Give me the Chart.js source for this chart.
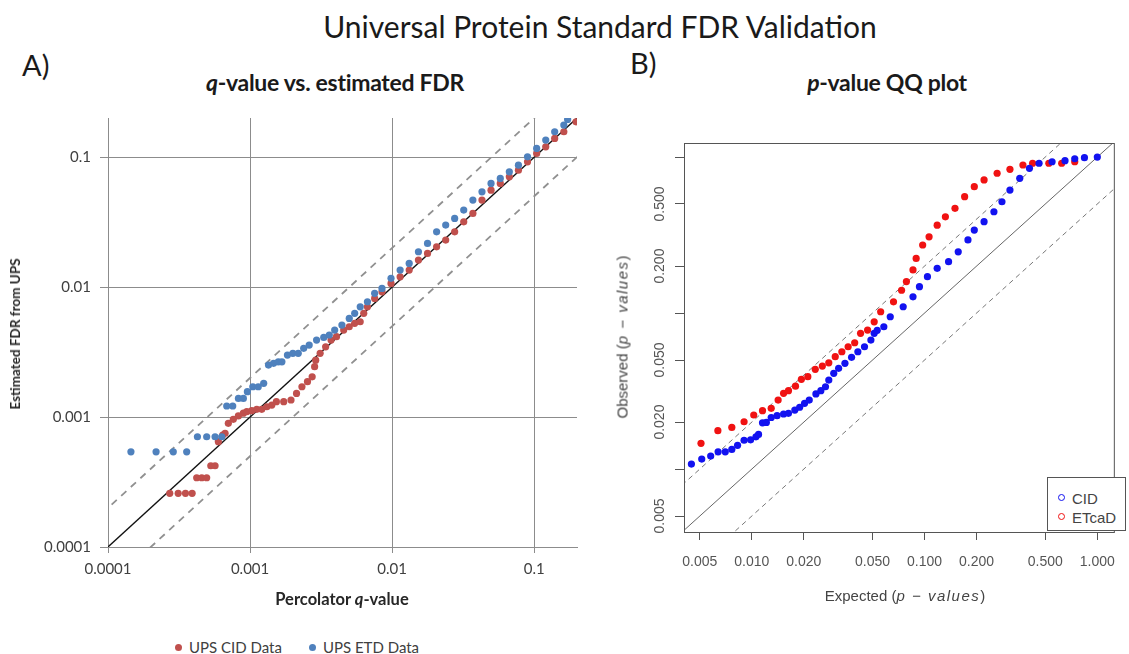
<!DOCTYPE html>
<html>
<head>
<meta charset="utf-8">
<script src="https://cdn.jsdelivr.net/npm/chart.js@4.4.1/dist/chart.umd.min.js"></script>
<style>
  body { margin: 0; width: 1129px; height: 654px; background: #fff; position: relative; overflow: hidden; font-family: Lato, sans-serif; }
  .abs { position: absolute; white-space: nowrap; }
  .box { position: absolute; }
  .rot { transform: translate(-50%, -50%) rotate(-90deg); }
  .ctr { transform: translate(-50%, -50%); }
  #mainTitle { left: 600px; top: 26px; font-size: 30px; color: #1a1a1a; }
  .panel { font-size: 29px; color: #1a1a1a; }
  .sub { font-size: 23px; font-weight: bold; color: #1a1a1a; letter-spacing: -0.3px; }
  .axA { font-weight: bold; color: #262626; }
  .axB { font-family: "Liberation Sans", Arial, sans-serif; font-size: 15px; color: #444; }
  .axB i { letter-spacing: 1.5px; }
  #legendA { left: 175px; top: 638px; font-size: 15px; color: #404040; }
  #legendA span.item { margin-right: 27px; }
  .dot { display: inline-block; width: 7px; height: 7px; border-radius: 50%; margin-right: 7px; vertical-align: 2px; }
  #legendB { left: 1047px; top: 477px; width: 79px; height: 54px; border: 1px solid #555; background: #fff;
             font-family: "Liberation Sans", Arial, sans-serif; font-size: 15px; color: #444; box-sizing: border-box; padding: 11px 0 0 10px; line-height: 19px; }
  .ring { display: inline-block; width: 5px; height: 5px; border-radius: 50%; border: 1.3px solid; margin-right: 7px; vertical-align: 3px; }
</style>
</head>
<body>
<div class="abs ctr" id="mainTitle">Universal Protein Standard FDR Validation</div>
<div class="abs panel" style="left:22px; top:47px;">A)</div>
<div class="abs panel" style="left:630px; top:45px;">B)</div>
<div class="abs ctr sub" style="left:335px; top:82px;"><i>q</i>-value vs. estimated FDR</div>
<div class="abs ctr sub" style="left:887px; top:82px;"><i>p</i>-value QQ plot</div>

<div class="box" style="left:0; top:100px;"><canvas id="chartA" width="590" height="520"></canvas></div>
<div class="box" style="left:590px; top:100px;"><canvas id="chartB" width="539" height="500"></canvas></div>

<div class="abs rot axA" style="left:15px; top:334px; font-size:13.5px;">Estimated FDR from UPS</div>
<div class="abs ctr axA" style="left:342px; top:599px; font-size:16.5px;">Percolator <i>q</i>-value</div>
<div class="abs rot axB" style="left:622px; top:337px;">Observed (<i>p − values</i>)</div>
<div class="abs ctr axB" style="left:905px; top:595px;">Expected (<i>p − values</i>)</div>

<div class="abs" id="legendA"></div>
<div class="abs" id="legendB"></div>

<script>
// ---- panel A: q-value vs estimated FDR ----
const cidQ = [0.000272, 0.000312, 0.000351, 0.000391, 0.000421, 0.000457, 0.000495, 0.000529, 0.000567, 0.000598,
  0.000642, 0.000667, 0.000703, 0.000762, 0.000827, 0.000897, 0.000948, 0.001028, 0.001114, 0.001208,
  0.001312, 0.001422, 0.001532, 0.001725, 0.001941, 0.002123, 0.002317, 0.002535, 0.002735, 0.002846,
  0.002897, 0.003113, 0.003403, 0.003715, 0.004058, 0.00456, 0.004988, 0.005446, 0.005957, 0.00631,
  0.0067, 0.00753, 0.00848, 0.00982, 0.01138, 0.01318, 0.01531, 0.01774, 0.02055, 0.02382,
  0.02754, 0.0319, 0.037, 0.04288, 0.04966, 0.0577, 0.0668, 0.0774, 0.0897, 0.104,
  0.1205, 0.1393, 0.1616, 0.1968];
const cidFdr = [0.000259, 0.000259, 0.000259, 0.000259, 0.000341, 0.000341, 0.000341, 0.000422, 0.000422, 0.000646,
  0.000727, 0.000749, 0.000894, 0.00096, 0.00102, 0.00107, 0.0011, 0.00112, 0.001146, 0.001146,
  0.0012, 0.001236, 0.001312, 0.001312, 0.001352, 0.00152, 0.00171, 0.00187, 0.00204, 0.00244,
  0.00274, 0.00309, 0.00347, 0.00391, 0.00415, 0.00467, 0.00495, 0.00526, 0.00541, 0.00628,
  0.00705, 0.00818, 0.0092, 0.01067, 0.012, 0.01351, 0.01614, 0.01816, 0.02042, 0.023,
  0.0266, 0.0318, 0.0369, 0.0467, 0.0557, 0.0628, 0.0705, 0.0794, 0.092, 0.1067,
  0.12, 0.1393, 0.1567, 0.187];
const etdQ = [0.000145, 0.000218, 0.000288, 0.000358, 0.000426, 0.000495, 0.000567, 0.000632, 0.000685, 0.000755,
  0.000828, 0.000897, 0.000957, 0.001045, 0.001142, 0.001247, 0.001348, 0.001463, 0.00158, 0.001675,
  0.001832, 0.002, 0.002183, 0.002384, 0.002607, 0.002938, 0.0033, 0.00361, 0.00394, 0.00443,
  0.00499, 0.00545, 0.00596, 0.0067, 0.00753, 0.00848, 0.00982, 0.01138, 0.01318, 0.01531,
  0.01774, 0.02055, 0.02382, 0.02754, 0.0319, 0.037, 0.04288, 0.04966, 0.0577, 0.0668,
  0.0774, 0.0897, 0.104, 0.1205, 0.1393, 0.1616, 0.1718];
const etdFdr = [0.00054, 0.00054, 0.00054, 0.00054, 0.000705, 0.000705, 0.000705, 0.000705, 0.001216, 0.001216,
  0.00139, 0.00139, 0.001567, 0.00171, 0.00171, 0.001816, 0.00251, 0.00259, 0.00266, 0.00266,
  0.003, 0.00309, 0.00309, 0.003377, 0.00358, 0.00391, 0.0041, 0.00428, 0.00467, 0.0051,
  0.00574, 0.00628, 0.00705, 0.00771, 0.00895, 0.00977, 0.01167, 0.01351, 0.0152, 0.0187,
  0.02168, 0.0266, 0.03, 0.03373, 0.0391, 0.0467, 0.0541, 0.0628, 0.0686, 0.0771,
  0.0867, 0.1005, 0.1167, 0.1352, 0.1567, 0.1763, 0.195];
const fdrTicks = [0.0001, 0.001, 0.01, 0.1];
const fdrTickLabels = ['0.0001', '0.001', '0.01', '0.1'];
const fdrRange = [0.0001, 0.2];

// ---- panel B: p-value QQ plot ----
const cidExpected = [0.00447, 0.00513, 0.00578, 0.00638, 0.00702, 0.00766, 0.00827, 0.00902, 0.00984, 0.01057,
  0.01094, 0.01153, 0.01214, 0.01295, 0.014, 0.01527, 0.0163, 0.01774, 0.01892, 0.0202,
  0.0215, 0.0235, 0.0251, 0.0267, 0.0279, 0.0298, 0.0318, 0.0346, 0.0378, 0.0411,
  0.0449, 0.0489, 0.0511, 0.0532, 0.0581, 0.0633, 0.0752, 0.0857, 0.0934, 0.1039,
  0.1183, 0.1377, 0.1566, 0.1783, 0.194, 0.221, 0.252, 0.2805, 0.312, 0.3556,
  0.4046, 0.46, 0.547, 0.65, 0.74, 0.842, 1.0];
const cidObserved = [0.01076, 0.01159, 0.01211, 0.0129, 0.0129, 0.01337, 0.0142, 0.0153, 0.0154, 0.0161,
  0.01668, 0.0198, 0.0199, 0.0214, 0.022, 0.02254, 0.02276, 0.0239, 0.0249, 0.0264,
  0.0277, 0.0303, 0.0318, 0.0337, 0.0372, 0.0411, 0.0442, 0.0476, 0.052, 0.0565,
  0.0608, 0.0671, 0.0741, 0.0775, 0.0817, 0.0947, 0.1097, 0.127, 0.1475, 0.171,
  0.1935, 0.2134, 0.247, 0.294, 0.34, 0.385, 0.446, 0.517, 0.614, 0.73,
  0.846, 0.912, 0.933, 0.947, 0.975, 0.99, 1.0];
const etcadExpected = [0.00508, 0.00636, 0.00766, 0.00902, 0.01026, 0.01153, 0.01295, 0.0142, 0.01527, 0.0163,
  0.0179, 0.01936, 0.0211, 0.0233, 0.0256, 0.0279, 0.0304, 0.0332, 0.0361, 0.0394,
  0.0426, 0.0468, 0.0511, 0.0557, 0.0661, 0.0736, 0.0785, 0.0857, 0.0894, 0.0975,
  0.1062, 0.1183, 0.132, 0.15, 0.1706, 0.194, 0.221, 0.263, 0.312, 0.371,
  0.422, 0.524, 0.622, 0.74];
const etcadObserved = [0.01462, 0.01761, 0.01849, 0.0201, 0.0222, 0.02366, 0.0245, 0.0277, 0.0306, 0.0318,
  0.034, 0.0376, 0.0391, 0.0436, 0.0457, 0.048, 0.0525, 0.0565, 0.0608, 0.0645,
  0.0741, 0.0778, 0.0879, 0.1019, 0.118, 0.14, 0.159, 0.189, 0.224, 0.273,
  0.308, 0.366, 0.414, 0.469, 0.557, 0.646, 0.713, 0.787, 0.834, 0.889,
  0.912, 0.912, 0.912, 0.933];
const pTicks = [0.005, 0.01, 0.02, 0.05, 0.1, 0.2, 0.5, 1];
const pXLabels = ['0.005', '0.010', '0.020', '0.050', '0.100', '0.200', '0.500', '1.000'];
const pYLabels = ['0.005', '', '0.020', '0.050', '', '0.200', '0.500', ''];
const pXRange = [0.00405, 1.246];
const pYRange = [0.00395, 1.23];

const zip = (xs, ys) => xs.map((x, i) => ({ x: x, y: ys[i] }));
// reference lines y = r*x, long enough to be clipped by the plot area
const ratioLine = (r) => [{ x: 1e-6, y: 1e-6 * r }, { x: 10, y: 10 * r }];

Chart.defaults.font.family = 'Lato';
Chart.defaults.animation = false;
Chart.defaults.events = [];
Chart.defaults.plugins.legend.display = false;
Chart.defaults.plugins.tooltip.enabled = false;

const seriesA = [
  { label: 'UPS CID Data', color: '#C0504D', data: zip(cidQ, cidFdr) },
  { label: 'UPS ETD Data', color: '#4F81BD', data: zip(etdQ, etdFdr) }
];

const gridA = '#8c8c8c';
new Chart(document.getElementById('chartA'), {
  type: 'scatter',
  data: {
    datasets: [
      { data: ratioLine(1), showLine: true, pointRadius: 0, borderColor: '#111', borderWidth: 1.3, order: 10 },
      { data: ratioLine(2), showLine: true, pointRadius: 0, borderColor: '#909090', borderWidth: 1.8, borderDash: [7, 6], order: 10 },
      { data: ratioLine(0.5), showLine: true, pointRadius: 0, borderColor: '#909090', borderWidth: 1.8, borderDash: [7, 6], order: 10 },
      { label: seriesA[0].label, data: seriesA[0].data, backgroundColor: seriesA[0].color, borderWidth: 0, pointRadius: 3.6, order: 2 },
      { label: seriesA[1].label, data: seriesA[1].data, backgroundColor: seriesA[1].color, borderWidth: 0, pointRadius: 3.6, order: 1 }
    ]
  },
  options: {
    responsive: false,
    devicePixelRatio: 1,
    layout: { padding: { top: 18, right: 13, left: 0, bottom: 0 } },
    scales: {
      x: {
        type: 'logarithmic', min: fdrRange[0], max: fdrRange[1],
        afterBuildTicks: s => { s.ticks = fdrTicks.map(v => ({ value: v })); },
        afterFit: s => { s.height = 73; },
        ticks: { callback: (v, i) => fdrTickLabels[i], color: '#404040', font: { size: 15 }, maxRotation: 0, autoSkip: false, padding: 7 },
        grid: { color: gridA, tickLength: 6 },
        border: { color: gridA }
      },
      y: {
        type: 'logarithmic', min: fdrRange[0], max: fdrRange[1],
        afterBuildTicks: s => { s.ticks = fdrTicks.map(v => ({ value: v })); },
        afterFit: s => { s.width = 108; },
        ticks: { callback: (v, i) => fdrTickLabels[i], color: '#404040', font: { size: 15 }, autoSkip: false, padding: 9 },
        grid: { color: gridA, tickLength: 8 },
        border: { color: gridA }
      }
    }
  }
});

document.getElementById('legendA').innerHTML = seriesA.map(s =>
  '<span class="item"><span class="dot" style="background:' + s.color + '"></span>' + s.label + '</span>').join('');

// ---- panel B ----
const seriesB = [
  { label: 'CID', color: '#1212F0', data: zip(cidExpected, cidObserved) },
  { label: 'ETcaD', color: '#F01212', data: zip(etcadExpected, etcadObserved) }
];
const axisB = '#555';
const fontB = '"Liberation Sans", Arial, sans-serif';

const frameAndYLabels = {
  id: 'frameAndYLabels',
  afterDraw(chart) {
    const { ctx, chartArea: a, scales: { y } } = chart;
    ctx.save();
    ctx.strokeStyle = axisB;
    ctx.lineWidth = 1;
    ctx.strokeRect(a.left + 0.5, a.top + 0.5, a.right - a.left, a.bottom - a.top);
    ctx.fillStyle = axisB;
    ctx.font = '14px ' + fontB;
    ctx.textAlign = 'center';
    ctx.textBaseline = 'middle';
    pTicks.forEach((v, i) => {
      if (!pYLabels[i]) return;
      ctx.save();
      ctx.translate(y.right - 24, y.getPixelForValue(v));
      ctx.rotate(-Math.PI / 2);
      ctx.fillText(pYLabels[i], 0, 0);
      ctx.restore();
    });
    ctx.restore();
  }
};

new Chart(document.getElementById('chartB'), {
  type: 'scatter',
  data: {
    datasets: [
      { data: ratioLine(1), showLine: true, pointRadius: 0, borderColor: '#666', borderWidth: 1, order: 10 },
      { data: ratioLine(2), showLine: true, pointRadius: 0, borderColor: '#777', borderWidth: 1, borderDash: [5, 4], order: 10 },
      { data: ratioLine(0.5), showLine: true, pointRadius: 0, borderColor: '#777', borderWidth: 1, borderDash: [5, 4], order: 10 },
      { label: seriesB[1].label, data: seriesB[1].data, backgroundColor: seriesB[1].color, borderWidth: 0, pointRadius: 3.6, order: 2 },
      { label: seriesB[0].label, data: seriesB[0].data, backgroundColor: seriesB[0].color, borderWidth: 0, pointRadius: 3.6, order: 1 }
    ]
  },
  options: {
    responsive: false,
    devicePixelRatio: 1,
    layout: { padding: { top: 43, right: 2, left: 0, bottom: 0 } },
    scales: {
      x: {
        type: 'logarithmic', min: pXRange[0], max: pXRange[1],
        afterBuildTicks: s => { s.ticks = pTicks.map(v => ({ value: v })); },
        afterFit: s => { s.height = 68; },
        ticks: { callback: (v, i) => pXLabels[i], color: axisB, font: { family: fontB, size: 14 }, maxRotation: 0, autoSkip: false, padding: 14 },
        grid: { drawOnChartArea: false, color: axisB, tickLength: 8 },
        border: { color: axisB }
      },
      y: {
        type: 'logarithmic', min: pYRange[0], max: pYRange[1],
        afterBuildTicks: s => { s.ticks = pTicks.map(v => ({ value: v })); },
        afterFit: s => { s.width = 94; },
        ticks: { display: false },
        grid: { drawOnChartArea: false, color: axisB, tickLength: 9 },
        border: { color: axisB }
      }
    }
  },
  plugins: [frameAndYLabels]
});

document.getElementById('legendB').innerHTML = seriesB.map(s =>
  '<div><span class="ring" style="border-color:' + s.color + '"></span>' + s.label + '</div>').join('');
</script>
</body>
</html>
